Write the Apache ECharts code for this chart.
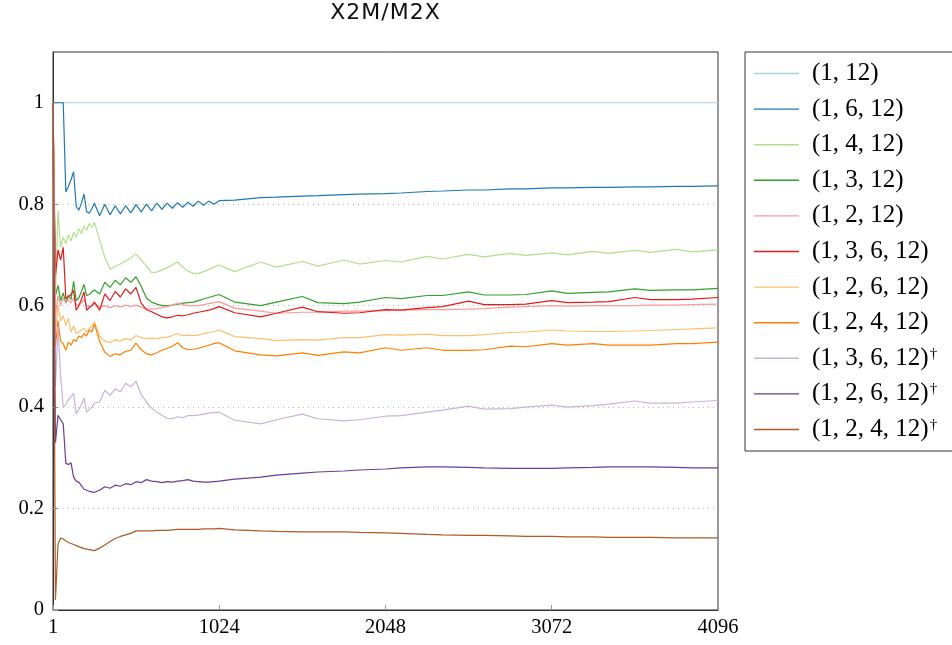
<!DOCTYPE html>
<html><head><meta charset="utf-8">
<script src="https://cdn.jsdelivr.net/npm/echarts@6/dist/echarts.min.js"></script>
<style>html,body{margin:0;padding:0;background:#fff}#c{width:952px;height:645px}</style>
</head><body><div id="c"></div>
<script>
const X = [1,16,32,48,64,80,96,112,128,144,160,176,192,208,224,240,256,288,320,352,384,416,448,480,512,544,576,608,640,672,704,736,768,800,832,864,896,928,960,992,1024,1120,1280,1376,1536,1632,1792,1888,2048,2144,2304,2400,2560,2656,2816,2912,3072,3168,3328,3424,3584,3680,3840,3936,4096];

const names = ['(1, 12)','(1, 6, 12)','(1, 4, 12)','(1, 3, 12)','(1, 2, 12)','(1, 3, 6, 12)','(1, 2, 6, 12)','(1, 2, 4, 12)','(1, 3, 6, 12)†','(1, 2, 6, 12)†','(1, 2, 4, 12)†'];
const colors = ['#a6cee3','#1f78b4','#b2df8a','#33a02c','#fb9a99','#e31a1c','#fdbf6f','#ff7f00','#cab2d6','#6a3d9a','#b15928'];

const xTicks = [1,1024,2048,3072,4096];
const yTicks = [0,0.2,0.4,0.6,0.8,1];

const y_1_12 = [1,1,1,1,1,1,1,1,1,1,1,1,1,1,1,1,1,1,1,1,1,1,1,1,1,1,1,1,1,1,1,1,1,1,1,1,1,1,1,1,1,1,1,1,1,1,1,1,1,1,1,1,1,1,1,1,1,1,1,1,1,1,1,1,1];
const y_1_6_12 = [1,1,1,1,1,0.824,0.835,0.848,0.864,0.795,0.788,0.802,0.820,0.785,0.782,0.791,0.802,0.777,0.800,0.779,0.797,0.781,0.797,0.783,0.799,0.785,0.800,0.787,0.802,0.790,0.802,0.792,0.803,0.794,0.804,0.796,0.806,0.798,0.806,0.800,0.807,0.808,0.813,0.814,0.816,0.817,0.819,0.820,0.821,0.822,0.825,0.826,0.828,0.828,0.830,0.830,0.832,0.832,0.833,0.833,0.834,0.834,0.835,0.835,0.836];
const y_1_4_12 = [1,0.62,0.787,0.715,0.735,0.722,0.740,0.728,0.745,0.735,0.752,0.742,0.757,0.748,0.762,0.754,0.764,0.729,0.695,0.672,0.677,0.682,0.688,0.694,0.702,0.690,0.678,0.665,0.666,0.670,0.675,0.680,0.686,0.676,0.668,0.664,0.663,0.667,0.671,0.676,0.680,0.667,0.686,0.676,0.687,0.678,0.690,0.682,0.689,0.686,0.697,0.692,0.701,0.696,0.703,0.699,0.704,0.700,0.707,0.703,0.709,0.705,0.711,0.706,0.710];
const y_1_3_12 = [1,0.62,0.64,0.61,0.625,0.605,0.62,0.612,0.648,0.610,0.615,0.628,0.642,0.620,0.622,0.627,0.631,0.623,0.646,0.636,0.650,0.641,0.655,0.646,0.657,0.638,0.615,0.607,0.603,0.600,0.600,0.601,0.603,0.605,0.606,0.607,0.610,0.613,0.616,0.619,0.622,0.607,0.600,0.607,0.618,0.606,0.604,0.607,0.616,0.614,0.620,0.620,0.627,0.621,0.621,0.622,0.629,0.624,0.626,0.627,0.633,0.630,0.631,0.631,0.634];
const y_1_2_12 = [1,0.58,0.62,0.60,0.615,0.605,0.612,0.605,0.615,0.603,0.600,0.605,0.612,0.600,0.598,0.600,0.604,0.597,0.600,0.596,0.600,0.597,0.601,0.598,0.601,0.597,0.594,0.593,0.594,0.596,0.598,0.601,0.605,0.602,0.600,0.600,0.600,0.602,0.604,0.606,0.608,0.595,0.589,0.585,0.587,0.587,0.589,0.589,0.590,0.591,0.592,0.592,0.593,0.594,0.597,0.598,0.600,0.599,0.600,0.600,0.600,0.601,0.601,0.602,0.603];
const y_1_3_6_12 = [1,0.66,0.71,0.69,0.715,0.614,0.618,0.622,0.630,0.591,0.600,0.612,0.627,0.591,0.596,0.600,0.607,0.591,0.623,0.610,0.628,0.617,0.633,0.623,0.636,0.605,0.592,0.588,0.583,0.578,0.576,0.578,0.581,0.580,0.582,0.585,0.587,0.589,0.591,0.594,0.598,0.586,0.578,0.585,0.597,0.588,0.585,0.586,0.592,0.591,0.596,0.598,0.609,0.602,0.602,0.603,0.610,0.606,0.607,0.608,0.616,0.612,0.612,0.613,0.616];
const y_1_2_6_12 = [1,0.55,0.60,0.57,0.58,0.56,0.575,0.548,0.560,0.545,0.548,0.552,0.556,0.548,0.555,0.560,0.568,0.540,0.530,0.527,0.533,0.530,0.535,0.532,0.541,0.537,0.535,0.536,0.535,0.537,0.538,0.541,0.545,0.541,0.542,0.541,0.542,0.545,0.547,0.549,0.552,0.539,0.535,0.531,0.533,0.532,0.537,0.537,0.543,0.542,0.544,0.541,0.541,0.543,0.547,0.548,0.552,0.550,0.549,0.549,0.550,0.551,0.553,0.554,0.556];
const y_1_2_4_12 = [1,0.52,0.57,0.53,0.525,0.512,0.528,0.522,0.533,0.530,0.540,0.537,0.545,0.540,0.552,0.548,0.564,0.530,0.508,0.500,0.505,0.503,0.510,0.512,0.526,0.513,0.505,0.503,0.507,0.512,0.516,0.520,0.527,0.517,0.513,0.514,0.516,0.519,0.522,0.525,0.527,0.511,0.503,0.501,0.507,0.502,0.509,0.507,0.517,0.512,0.517,0.512,0.512,0.513,0.520,0.519,0.525,0.522,0.525,0.522,0.522,0.522,0.525,0.525,0.528];
const y_1_3_6_12d = [1,0.44,0.56,0.46,0.40,0.405,0.415,0.420,0.427,0.387,0.395,0.405,0.418,0.390,0.395,0.400,0.408,0.410,0.433,0.423,0.436,0.430,0.447,0.440,0.451,0.425,0.410,0.398,0.390,0.384,0.378,0.377,0.381,0.379,0.383,0.383,0.384,0.386,0.388,0.389,0.390,0.374,0.367,0.375,0.386,0.377,0.373,0.375,0.382,0.383,0.390,0.394,0.402,0.396,0.397,0.400,0.404,0.400,0.403,0.406,0.412,0.408,0.408,0.410,0.413];
const y_1_2_6_12d = [1,0.33,0.384,0.375,0.367,0.289,0.287,0.290,0.262,0.254,0.252,0.245,0.238,0.236,0.234,0.233,0.232,0.236,0.243,0.240,0.246,0.244,0.249,0.247,0.253,0.251,0.257,0.254,0.253,0.251,0.253,0.252,0.254,0.255,0.257,0.254,0.253,0.252,0.252,0.253,0.254,0.258,0.262,0.266,0.270,0.272,0.274,0.276,0.278,0.280,0.282,0.282,0.281,0.280,0.279,0.279,0.279,0.280,0.281,0.282,0.282,0.282,0.281,0.280,0.280];
const y_1_2_4_12d = [1,0.02,0.13,0.142,0.140,0.136,0.133,0.131,0.129,0.127,0.125,0.123,0.121,0.120,0.119,0.118,0.117,0.122,0.128,0.135,0.141,0.145,0.148,0.151,0.156,0.156,0.156,0.156,0.157,0.157,0.157,0.158,0.159,0.159,0.159,0.159,0.159,0.160,0.160,0.160,0.161,0.158,0.156,0.155,0.154,0.154,0.154,0.153,0.152,0.151,0.149,0.148,0.147,0.147,0.146,0.145,0.145,0.144,0.144,0.143,0.143,0.143,0.142,0.142,0.142];

const allY = [y_1_12,y_1_6_12,y_1_4_12,y_1_3_12,y_1_2_12,y_1_3_6_12,y_1_2_6_12,y_1_2_4_12,y_1_3_6_12d,y_1_2_6_12d,y_1_2_4_12d];

const TITLE = 'X2M/M2X';
const SERIF = '"Liberation Serif", "DejaVu Serif", serif';
const SANS = '"DejaVu Sans", sans-serif';
const chart = echarts.init(document.getElementById('c'), null, {renderer: 'canvas'});

const series = names.map((n, i) => ({
  name: n,
  type: 'line',
  symbol: 'none',
  showSymbol: false,
  color: colors[i],
  lineStyle: {width: 1.2, color: colors[i]},
  data: X.map((x, k) => [x, allY[i][k]])
}));

chart.setOption({
  animation: false,
  title: {
    text: TITLE.split('').map(ch => '{c|' + ch + '}').join(''),
    left: 385, top: 2, textAlign: 'center', padding: 0,
    textStyle: {
      fontFamily: SANS, fontSize: 22, fontWeight: 'normal', color: '#111',
      rich: {c: {fontFamily: SANS, fontSize: 22, color: '#111', padding: [0, 0.5, 0, 0.5]}}
    }
  },
  grid: {left: 53, right: 234, top: 52, bottom: 35, show: true, borderColor: '#333', borderWidth: 1, outerBoundsMode: 'none'},
  legend: {
    orient: 'vertical', left: 745, top: 52,
    padding: [9, 40, 9, 9],
    icon: 'rect',
    itemWidth: 45, itemHeight: 1.4, itemGap: 10.6,
    borderColor: '#333', borderWidth: 1,
    data: names,
    formatter: n => n.endsWith('†') ? '{a|' + n.slice(0, -1) + '}{d|†}' : '{a|' + n + '}',
    textStyle: {
      fontFamily: SERIF, fontSize: 25, color: '#000', lineHeight: 24,
      rich: {
        a: {fontFamily: SERIF, fontSize: 25, color: '#000', lineHeight: 24, padding: [0, 0, 0, 8]},
        d: {fontFamily: SERIF, fontSize: 15, color: '#000', lineHeight: 24, verticalAlign: 'top', padding: [0, 0, 6, 1]}
      }
    }
  },
  xAxis: {
    type: 'value', min: 1, max: 4096,
    axisLine: {show: true, lineStyle: {color: '#333'}},
    axisTick: {show: true, inside: true, length: 5, lineStyle: {color: '#999'}, customValues: xTicks},
    axisLabel: {customValues: xTicks, formatter: v => String(v), fontFamily: SERIF, fontSize: 20.5, color: '#000', margin: 7},
    splitLine: {show: false}
  },
  yAxis: {
    type: 'value', min: 0, max: 1.1, interval: 0.2,
    axisLine: {show: true, lineStyle: {color: '#333'}},
    axisTick: {show: true, inside: true, length: 5, lineStyle: {color: '#999'}, customValues: yTicks},
    axisLabel: {customValues: yTicks, formatter: v => String(+v.toFixed(1)), fontFamily: SERIF, fontSize: 20.5, color: '#000', margin: 9},
    splitLine: {show: true, showMinLine: false, showMaxLine: false, lineStyle: {color: '#bbb', type: [1, 4], width: 1}}
  },
  series: series
});
</script>
</body></html>
